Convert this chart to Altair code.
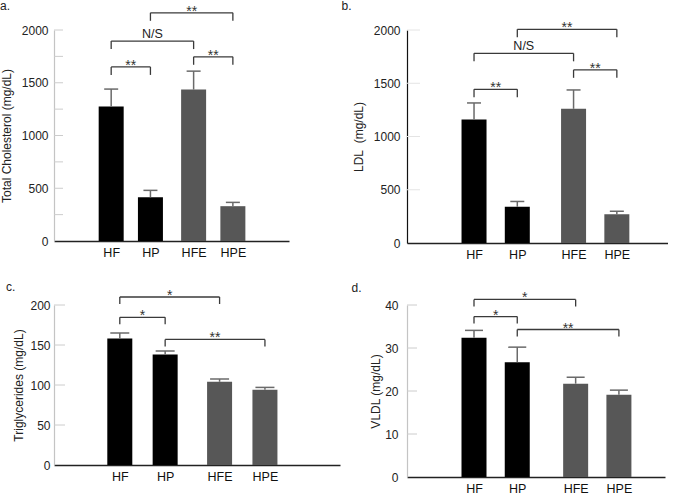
import altair as alt
import pandas as pd

FONT = "Liberation Sans"

groups = ["HF", "HP", "HFE", "HPE"]
bar_colors = ["#000000", "#000000", "#575757", "#575757"]

# a. Total cholesterol
tc_mean = [1275, 415, 1435, 330]
tc_se = [165, 65, 175, 36]
tc_br_from = ["HF", "HF", "HFE", "HP"]
tc_br_to = ["HP", "HFE", "HPE", "HPE"]
tc_br_y = [1650, 1895, 1746, 2163]
tc_br_label = ["**", "N/S", "**", "**"]

# b. LDL
ldl_mean = [1160, 340, 1260, 270]
ldl_se = [155, 50, 177, 28]
ldl_br_from = ["HF", "HF", "HFE", "HP"]
ldl_br_to = ["HP", "HFE", "HPE", "HPE"]
ldl_br_y = [1443, 1781, 1626, 2006]
ldl_br_label = ["**", "N/S", "**", "**"]

# c. Triglycerides
tg_mean = [158, 138, 104, 94]
tg_se = [7, 4.5, 3.5, 3]
tg_br_from = ["HF", "HF", "HP"]
tg_br_to = ["HP", "HFE", "HPE"]
tg_br_y = [184.6, 210, 157]
tg_br_label = ["*", "*", "**"]

# d. VLDL
vldl_mean = [32.4, 26.7, 21.7, 19.1]
vldl_se = [1.7, 3.5, 1.5, 1.1]
vldl_br_from = ["HF", "HF", "HP"]
vldl_br_to = ["HP", "HFE", "HPE"]
vldl_br_y = [37.3, 41.3, 34.3]
vldl_br_label = ["*", "*", "**"]

tc_labels = [0, 500, 1000, 1500, 2000]
tc_ticks = [250, 500, 750, 1000, 1250, 1500, 1750, 2000]
ldl_labels = [0, 500, 1000, 1500, 2000]
ldl_ticks = [500, 1000, 1500, 2000]
tg_labels = [0, 50, 100, 150, 200]
tg_ticks = [50, 100, 150, 200]
vldl_labels = [0, 10, 20, 30, 40]
vldl_ticks = [10, 20, 30, 40]


def panel(letter, title, mean, se, br_from, br_to, br_y, br_label,
          ymax, ylabels, yticks, W, H, c0, step, gap, cap, drop,
          tick_len, axis_color, tick_color, label_pad, title_pad,
          letter_dx, letter_dy):
    pos = [i + (gap if i >= 2 else 0) for i in range(len(groups))]
    pmap = dict(zip(groups, pos))
    lo = -c0 / step
    hi = lo + W / step
    xs = alt.Scale(domain=[lo, hi], nice=False, zero=False)
    ys = alt.Scale(domain=[0, ymax], nice=False, zero=True)

    df = pd.DataFrame({
        "group": groups,
        "mean": mean,
        "top": [m + e for m, e in zip(mean, se)],
        "pos": pos,
    })
    names = "[" + ",".join("'%s'" % g for g in groups) + "]"
    vals = "[" + ",".join(repr(p) for p in pos) + "]"
    xaxis = alt.Axis(values=pos, labelExpr=f"{names}[indexof({vals}, datum.value)]",
                     ticks=False, grid=False, title=None, domainColor="#222222",
                     domainWidth=1.5, labelFontSize=12.5, labelFont=FONT,
                     labelColor="#111111", labelPadding=5)
    yaxis = alt.Axis(values=ylabels, format="d", ticks=False, tickSize=0, grid=False,
                     domainColor=axis_color, domainWidth=1.2,
                     labelFontSize=12, labelFont=FONT, labelColor="#222222",
                     labelPadding=label_pad, title=title, titleFont=FONT,
                     titleFontSize=12, titleFontWeight="normal",
                     titleColor="#222222", titlePadding=title_pad)

    def X(f):
        return alt.X(f, scale=xs, axis=xaxis)

    def Y(f):
        return alt.Y(f, scale=ys, axis=yaxis)

    bars = alt.Chart(df).mark_bar(size=25).encode(
        x=X("pos:Q"), y=Y("mean:Q"),
        color=alt.Color("group:N", scale=alt.Scale(domain=groups, range=bar_colors),
                        legend=None))

    tick_df = pd.DataFrame({"t": yticks})
    ticks = alt.Chart(tick_df).mark_rule(color=tick_color, strokeWidth=1).encode(
        x=alt.value(0), x2=alt.value(tick_len), y=Y("t:Q"))

    err = alt.Chart(df).mark_rule(color="#6a6a6a", strokeWidth=1.5).encode(
        x=X("pos:Q"), y=Y("mean:Q"), y2="top:Q")
    caps = alt.Chart(df).mark_rule(color="#6a6a6a", strokeWidth=1.5,
                                   xOffset=-cap / 2, x2Offset=cap / 2).encode(
        x=X("pos:Q"), x2="pos:Q", y=Y("top:Q"))

    br = pd.DataFrame({
        "p1": [pmap[a] for a in br_from],
        "p2": [pmap[b] for b in br_to],
        "h": br_y,
        "label": br_label,
    })
    br["mid"] = (br["p1"] + br["p2"]) / 2
    ends = pd.DataFrame({"p": list(br["p1"]) + list(br["p2"]),
                         "h": list(br["h"]) * 2})
    hline = alt.Chart(br).mark_rule(color="#3a3a3a", strokeWidth=1.3).encode(
        x=X("p1:Q"), x2="p2:Q", y=Y("h:Q"))
    drops = alt.Chart(ends).mark_rule(color="#3a3a3a", strokeWidth=1.3,
                                      y2Offset=drop).encode(
        x=X("p:Q"), y=Y("h:Q"), y2="h:Q")
    stars = alt.Chart(br).transform_filter("datum.label != 'N/S'").mark_text(
        font=FONT, fontSize=14, color="#333333", baseline="alphabetic", dy=3).encode(
        x=X("mid:Q"), y=Y("h:Q"), text="label:N")
    ns = alt.Chart(br).transform_filter("datum.label == 'N/S'").mark_text(
        font=FONT, fontSize=12.5, color="#222222", baseline="alphabetic", dy=-3).encode(
        x=X("mid:Q"), y=Y("h:Q"), text="label:N")

    tag = alt.Chart(pd.DataFrame({"letter": [letter]})).mark_text(
        font=FONT, fontSize=12, color="#222222", align="left",
        baseline="alphabetic").encode(
        x=alt.value(letter_dx), y=alt.value(letter_dy), text="letter:N")

    return alt.layer(bars, ticks, err, caps, hline, drops, stars, ns, tag).properties(
        width=W, height=H)


pa = panel("a.", "Total Cholesterol (mg/dL)", tc_mean, tc_se, tc_br_from, tc_br_to,
           tc_br_y, tc_br_label, 2000, tc_labels, tc_ticks, 235, 211, 54.5, 41, 0.1,
           14, 8, 9, "#c4c4c4", "#cccccc", 6, 8, -54, -20)
pb = panel("b.", "LDL\u00a0 (mg/dL)", ldl_mean, ldl_se, ldl_br_from, ldl_br_to,
           ldl_br_y, ldl_br_label, 2000, ldl_labels, ldl_ticks, 261, 213, 64.5, 45, 0.3,
           14, 8, 13, "#111111", "#e4e4e4", 7, 8, -65.5, -20)
pc = panel("c.", "Triglycerides (mg/dL)", tg_mean, tg_se, tg_br_from, tg_br_to,
           tg_br_y, tg_br_label, 200, tg_labels, tg_ticks, 286, 160, 63, 47, 0.2,
           19, 7, 11, "#c4c4c4", "#cccccc", 4, 4, -48, -14)
pd_ = panel("d.", "VLDL (mg/dL)", vldl_mean, vldl_se, vldl_br_from, vldl_br_to,
            vldl_br_y, vldl_br_label, 40, vldl_labels, vldl_ticks, 258, 172, 64.5, 45, 0.35,
            18, 7, 10, "#c4c4c4", "#cccccc", 9, 2, -55.5, -13)

chart = alt.concat(pa, pb, pc, pd_, columns=2,
                   spacing={"row": 20, "column": 1}).properties(
    padding={"left": 0, "top": 0, "right": 0, "bottom": 0},
    background="white",
).configure_view(stroke=None)

chart.save("out.html", embed_options={"renderer": "svg", "actions": False})
